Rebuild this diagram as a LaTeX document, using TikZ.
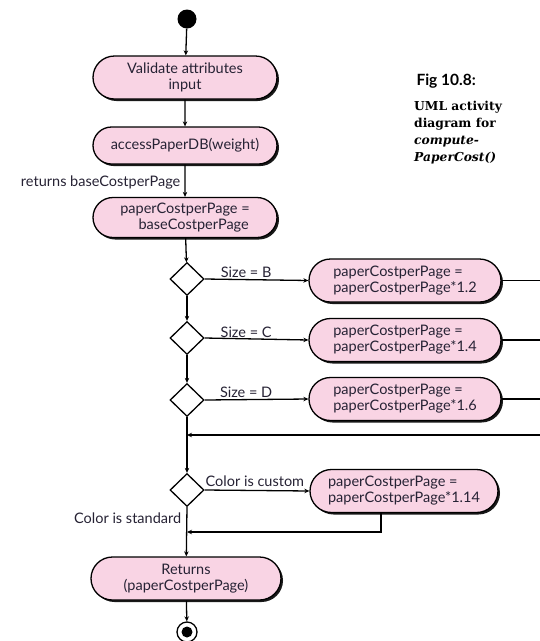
\documentclass[tikz,border=0pt]{standalone}
\usepackage{fontspec}
\setmainfont{Lato}
\newfontfamily\capserif{DejaVu Serif}
\usetikzlibrary{shapes.misc,shapes.geometric,arrows.meta,shadows,positioning}
\definecolor{pinkfill}{RGB}{249,212,228}
\definecolor{inkc}{RGB}{38,34,52}
\begin{document}
\begin{tikzpicture}[x=1pt,y=-1pt,
  every node/.style={font=\fontsize{14.5}{16}\selectfont, text=inkc},
  act/.style={rounded rectangle, draw=black, line width=1.3pt, fill=pinkfill,
    minimum width=188pt, minimum height=43pt, inner sep=2pt, align=center,
    drop shadow={shadow xshift=2pt, shadow yshift=-2pt, fill=black, opacity=0.9}},
  actl/.style={act, align=left},
  dec/.style={diamond, draw=black, line width=1.3pt, fill=white, minimum width=34pt, minimum height=33pt, inner sep=0pt},
  arr/.style={draw=black, line width=1.3pt, -{Stealth[length=5pt,width=4.5pt]}},
  ln/.style={draw=black, line width=1.3pt},
  lab/.style={inner sep=1pt}
]
\useasboundingbox (0,0) rectangle (540,641);

\node[circle, fill=black, minimum size=19pt, inner sep=0pt] (start) at (187,19) {};
\node[act] (v1) at (185,77.5) {Validate attributes\\input};
\node[act, minimum height=37pt] (v2) at (185,145.5) {accessPaperDB(weight)};
\node[act, minimum height=40pt] (v3) at (185,217.5) {paperCostperPage =\\\hspace*{1.2em}baseCostperPage};

\node[dec] (d1) at (187,279) {};
\node[dec] (d2) at (187,338) {};
\node[dec] (d3) at (187,400) {};
\coordinate (jn) at (187,435);
\coordinate (rin) at (540,435);
\node[dec] (d4) at (187,490) {};
\coordinate (j2) at (187,532);

\node[actl, minimum width=196pt] (bB) at (405,280.5) {paperCostperPage =\\paperCostperPage*1.2};
\node[actl, minimum width=196pt] (bC) at (405,340) {paperCostperPage =\\paperCostperPage*1.4};
\node[actl, minimum width=196pt] (bD) at (405,399) {paperCostperPage =\\paperCostperPage*1.6};
\node[actl, minimum width=192pt] (bE) at (404,491) {paperCostperPage =\\paperCostperPage*1.14};

\coordinate (oB) at (540,280.5);
\coordinate (oC) at (540,340);
\coordinate (oD) at (540,399);

\node[act, minimum width=194pt] (ret) at (186,578.5) {Returns\\(paperCostperPage)};

\node[circle, draw=black, line width=1.3pt, fill=white, minimum size=20pt, inner sep=0pt] (endo) at (187,632) {};
\node[circle, fill=black, minimum size=11pt, inner sep=0pt] (endi) at (187,632) {};

% connectors
\draw[arr] (start) -- (v1);
\draw[arr] (v1) -- (v2);
\draw[arr] (v2) -- node[lab, left, pos=0.55, xshift=-3pt] {returns baseCostperPage} (v3);
\draw[arr] (v3) -- (d1);
\draw[arr] (d1) -- (d2);
\draw[arr] (d2) -- (d3);
\draw[arr] (d3) -- (d4);
\draw[arr] (rin) -- (jn);

\draw[arr] (d1.east) -- node[lab, above, pos=0.4] {Size = B} (bB.west);
\draw[arr] (d2.east) -- node[lab, above, pos=0.4] {Size = C} (bC.west);
\draw[arr] (d3.east) -- node[lab, above, pos=0.4] {Size = D} (bD.west);
\draw[ln] (bB.east) -- (oB);
\draw[ln] (bC.east) -- (oC);
\draw[ln] (bD.east) -- (oD);

\draw[arr] (d4.east) -- node[lab, above, pos=0.48, yshift=2pt] {Color is custom} (bE.west);
\draw[arr] ([xshift=-23pt]bE.south) |- (j2);
\draw[arr] (d4.south) -- node[lab, left, pos=0.23, xshift=-4pt] {Color is standard} (ret);
\draw[arr] (ret) -- (endo);

% caption
\node[anchor=west, font=\fontsize{15.5}{17}\selectfont\bfseries, text=black] (fig) at (413,81) {Fig 10.8:};
\node[anchor=north west, align=left, font=\capserif\fontsize{12.3}{17}\selectfont\bfseries, text=black, inner sep=0pt] (cap) at (414,101)
  {UML activity\\diagram for\\\textit{compute-}\\\textit{PaperCost()}};
\end{tikzpicture}
\end{document}
